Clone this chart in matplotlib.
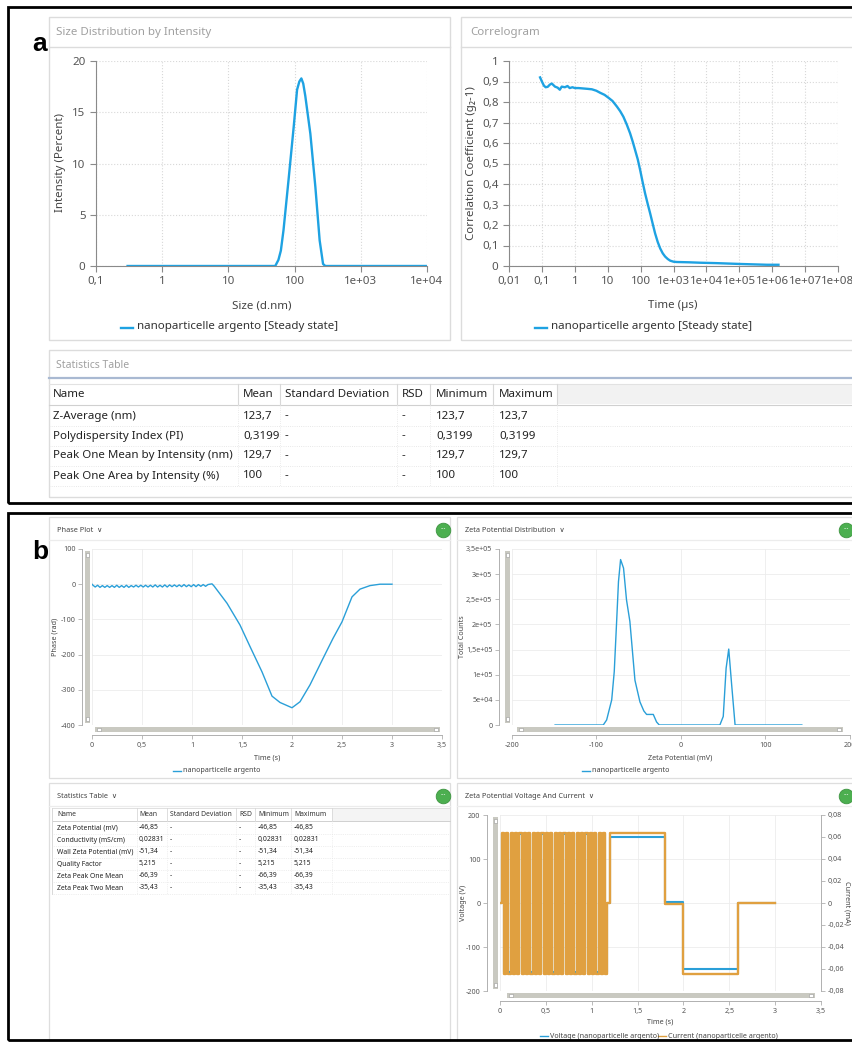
import numpy as np
import matplotlib
matplotlib.use('Agg')
import matplotlib.pyplot as plt
from matplotlib.patches import Rectangle
from matplotlib.lines import Line2D

plt.rcParams['font.family'] = ['Noto Sans', 'DejaVu Sans']
plt.rcParams['axes.unicode_minus'] = False

# ---------------- data (a) ----------------
size_nm = [0.3, 51, 57, 62, 68, 81, 97, 109, 118, 126.5, 135, 145, 173, 206, 239, 269, 291, 1e4]
size_int = [0, 0, 0.6, 1.5, 3.5, 8.4, 13.6, 17.2, 18.0, 18.3, 17.8, 16.6, 12.9, 7.7, 2.5, 0.2, 0, 0]
size_ticks = [0.1, 1, 10, 100, 1e3, 1e4]
size_ticklabels = ['0,1', '1', '10', '100', '1e+03', '1e+04']

corr_t = [0.088, 0.1, 0.115, 0.13, 0.15, 0.175, 0.2, 0.25, 0.3, 0.35,
          0.4, 0.5, 0.6, 0.7, 0.85, 1.0, 1.3, 1.8, 2.5, 3.3,
          4.5, 5.9, 8, 10.5, 14, 19, 24, 30, 38, 48,
          58, 68, 82, 97, 115, 137, 163, 195, 230, 276,
          330, 393, 470, 557, 670, 794, 1000, 1260, 3000, 6460,
          2e4, 1e5, 7e5, 1.55e6]
corr_g = [0.92, 0.90, 0.88, 0.872, 0.874, 0.885, 0.89, 0.875, 0.87, 0.86,
          0.875, 0.872, 0.878, 0.868, 0.872, 0.868, 0.868, 0.866, 0.864, 0.862,
          0.855, 0.845, 0.835, 0.821, 0.805, 0.778, 0.755, 0.728, 0.69, 0.647,
          0.605, 0.566, 0.52, 0.468, 0.41, 0.354, 0.305, 0.257, 0.21, 0.159,
          0.118, 0.086, 0.062, 0.046, 0.034, 0.026, 0.021, 0.0195, 0.018, 0.016,
          0.014, 0.01, 0.006, 0.006]
corr_xticks = [1e-2, 1e-1, 1, 10, 100, 1e3, 1e4, 1e5, 1e6, 1e7, 1e8]
corr_xticklabels = ['0,01', '0,1', '1', '10', '100', '1e+03', '1e+04', '1e+05', '1e+06', '1e+07', '1e+08']
corr_yticks = [0, 0.1, 0.2, 0.3, 0.4, 0.5, 0.6, 0.7, 0.8, 0.9, 1]
corr_yticklabels = ['0', '0,1', '0,2', '0,3', '0,4', '0,5', '0,6', '0,7', '0,8', '0,9', '1']

stat_cols = ['Name', 'Mean', 'Standard Deviation', 'RSD', 'Minimum', 'Maximum']
stat_a_names = ['Z-Average (nm)', 'Polydispersity Index (PI)',
                'Peak One Mean by Intensity (nm)', 'Peak One Area by Intensity (%)']
stat_a_mean = ['123,7', '0,3199', '129,7', '100']
stat_a_min = ['123,7', '0,3199', '129,7', '100']
stat_a_max = ['123,7', '0,3199', '129,7', '100']

# ---------------- data (b) ----------------
phase_t = [0.000, 0.010, 0.032, 0.056, 0.080, 0.104, 0.128, 0.152, 0.176, 0.200,
           0.224, 0.248, 0.272, 0.296, 0.320, 0.344, 0.368, 0.392, 0.416, 0.440,
           0.464, 0.488, 0.512, 0.536, 0.560, 0.584, 0.608, 0.632, 0.656, 0.680,
           0.704, 0.728, 0.752, 0.776, 0.800, 0.824, 0.848, 0.872, 0.896, 0.920,
           0.944, 0.968, 0.992, 1.016, 1.040, 1.064, 1.088, 1.112, 1.136, 1.160,
           1.180, 1.200, 1.220, 1.35, 1.48, 1.58, 1.70, 1.80, 1.88, 2.00,
           2.08, 2.18, 2.31, 2.41, 2.50, 2.60, 2.68, 2.78, 2.88, 3.00]
phase_rad = [0, -3, -8, -3, -9, -4, -9, -4, -9, -4,
             -9, -3, -9, -4, -9, -3, -9, -4, -8, -3,
             -8, -3, -8, -3, -8, -3, -8, -2, -8, -3,
             -8, -2, -8, -2, -7, -2, -7, -2, -7, -1,
             -7, -2, -7, -1, -7, -1, -6, -1, -6, -1,
             0, 1, -5, -54, -116, -177, -249, -318, -336, -351,
             -334, -286, -211, -154, -107, -36, -14, -4, 0, 0]
phase_xticks = [0, 0.5, 1, 1.5, 2, 2.5, 3, 3.5]
phase_xticklabels = ['0', '0,5', '1', '1,5', '2', '2,5', '3', '3,5']

zeta_mv = [-149, -92, -88, -82, -79, -76, -74, -71.5, -68, -64.5,
           -60.5, -54.5, -48.6, -44, -40.7, -32.8, -28.9, -25.7, 46, 50,
           53.4, 56.5, 60, 64, 143]
zeta_counts = [0, 0, 1e4, 5e4, 1.06e5, 2.12e5, 2.85e5, 3.29e5, 3.12e5, 2.49e5,
               2.06e5, 8.9e4, 4.6e4, 2.8e4, 2.1e4, 2.1e4, 6e3, 0, 0, 1.7e4,
               1.13e5, 1.51e5, 7.9e4, 0, 0]
zeta_yticks = [0, 5e4, 1e5, 1.5e5, 2e5, 2.5e5, 3e5, 3.5e5]
zeta_yticklabels = ['0', '5e+04', '1e+05', '1,5e+05', '2e+05', '2,5e+05', '3e+05', '3,5e+05']

stat_b_names = ['Zeta Potential (mV)', 'Conductivity (mS/cm)', 'Wall Zeta Potential (mV)',
                'Quality Factor', 'Zeta Peak One Mean', 'Zeta Peak Two Mean']
stat_b_mean = ['-46,85', '0,02831', '-51,34', '5,215', '-66,39', '-35,43']
stat_b_min = ['-46,85', '0,02831', '-51,34', '5,215', '-66,39', '-35,43']
stat_b_max = ['-46,85', '0,02831', '-51,34', '5,215', '-66,39', '-35,43']

# step change times for voltage / current
vi_t = [0.000, 0.020, 0.044, 0.068, 0.092, 0.116, 0.140, 0.164, 0.188, 0.212,
        0.236, 0.260, 0.284, 0.308, 0.332, 0.356, 0.380, 0.404, 0.428, 0.452,
        0.476, 0.500, 0.524, 0.548, 0.572, 0.596, 0.620, 0.644, 0.668, 0.692,
        0.716, 0.740, 0.764, 0.788, 0.812, 0.836, 0.860, 0.884, 0.908, 0.932,
        0.956, 0.980, 1.004, 1.028, 1.052, 1.076, 1.100, 1.124, 1.148, 1.172,
        1.200, 1.800, 2.000, 2.600, 3.000]
volt_v = [0, 157, -157, 157, -157, 157, -157, 157, -157, 157,
          -157, 157, -157, 157, -157, 157, -157, 157, -157, 157,
          -157, 157, -157, 157, -157, 157, -157, 157, -157, 157,
          -157, 157, -157, 157, -157, 157, -157, 157, -157, 157,
          -157, 157, -157, 157, -157, 157, -157, 157, -157, 0,
          150, 3, -150, 0, 0]
curr_ma = [0, 0.0632, -0.0648, 0.0632, -0.0648, 0.0632, -0.0648, 0.0632, -0.0648, 0.0632,
           -0.0648, 0.0632, -0.0648, 0.0632, -0.0648, 0.0632, -0.0648, 0.0632, -0.0648, 0.0632,
           -0.0648, 0.0632, -0.0648, 0.0632, -0.0648, 0.0632, -0.0648, 0.0632, -0.0648, 0.0632,
           -0.0648, 0.0632, -0.0648, 0.0632, -0.0648, 0.0632, -0.0648, 0.0632, -0.0648, 0.0632,
           -0.0648, 0.0632, -0.0648, 0.0632, -0.0648, 0.0632, -0.0648, 0.0632, -0.0648, 0,
           0.0632, -0.0005, -0.0648, 0, 0]
curr_yticks = [-0.08, -0.06, -0.04, -0.02, 0, 0.02, 0.04, 0.06, 0.08]
curr_yticklabels = ['-0,08', '-0,06', '-0,04', '-0,02', '0', '0,02', '0,04', '0,06', '0,08']

BLUE_A = '#1ea2e2'
BLUE_B = '#2a9fd8'
ORANGE = '#e0a040'

W, H = 853, 1042
fig = plt.figure(figsize=(W / 100, H / 100), dpi=100)
fig.patch.set_facecolor('white')


def px_ax(l, t, r, b):
    return fig.add_axes([l / W, 1 - b / H, (r - l) / W, (b - t) / H])


def box(l, t, r, b, ec='#dcdcdc', lw=1.0, fc='none', z=1):
    fig.add_artist(Rectangle((l / W, 1 - b / H), (r - l) / W, (b - t) / H,
                             transform=fig.transFigure, fc=fc, ec=ec, lw=lw, zorder=z))


def line(x0, y0, x1, y1, color='#dcdcdc', lw=1.0, ls='-'):
    fig.add_artist(Line2D([x0 / W, x1 / W], [1 - y0 / H, 1 - y1 / H],
                          transform=fig.transFigure, color=color, lw=lw, ls=ls))


def txt(x, y, s, size=8, color='#333333', ha='left', **kw):
    fig.text(x / W, 1 - y / H, s, fontsize=size, color=color, ha=ha, va='center', **kw)


def button(x, y):
    fig.add_artist(Line2D([x / W], [1 - y / H], transform=fig.transFigure, marker='o',
                          markersize=10.5, color='#4caf50', mec='#3d9440', mew=0.6))
    txt(x, y - 1, '···', size=5, color='white', ha='center', fontweight='bold')


def style_a(ax):
    for s in ['top', 'right']:
        ax.spines[s].set_visible(False)
    for s in ['left', 'bottom']:
        ax.spines[s].set_color('#8a8a8a')
    ax.tick_params(labelsize=8.3, colors='#8a8a8a', labelcolor='#555555', length=4, width=0.8)
    ax.grid(True, color='#d8d8d8', linestyle=':', linewidth=0.8)
    ax.minorticks_off()


def style_b(ax, left_out=6):
    for s in ['top', 'right']:
        ax.spines[s].set_visible(False)
    for s in ['left', 'bottom']:
        ax.spines[s].set_color('#b0b0b0')
        ax.spines[s].set_linewidth(0.7)
    ax.spines['left'].set_position(('outward', left_out))
    ax.spines['bottom'].set_position(('outward', 7))
    ax.tick_params(labelsize=5.2, colors='#b0b0b0', labelcolor='#555555', length=3, width=0.6, pad=2)
    ax.grid(True, color='#ececec', linestyle='-', linewidth=0.6)


def vscroll(x, t, b):
    box(x, t, x + 5, b, ec='none', fc='#c9c9c1', z=3)
    box(x + 1, t + 2, x + 4, t + 6, ec='#999999', fc='white', lw=0.4, z=4)
    box(x + 1, b - 6, x + 4, b - 2, ec='#999999', fc='white', lw=0.4, z=4)


def hscroll(l, r, y):
    box(l, y, r, y + 5, ec='none', fc='#c9c9c1', z=3)
    box(l + 2, y + 1, l + 6, y + 4, ec='#999999', fc='white', lw=0.4, z=4)
    box(r - 6, y + 1, r - 2, y + 4, ec='#999999', fc='white', lw=0.4, z=4)


# ======================= panel a =======================
box(8, 7, 870, 503, ec='black', lw=2.0, z=5)
txt(32, 44, 'a', size=19, color='black', fontweight='bold', family=['Liberation Sans', 'DejaVu Sans'])

box(49, 17, 450, 340)
line(49, 47, 450, 47)
txt(56, 33, 'Size Distribution by Intensity', size=8.3, color='#a0a0a0')
box(461, 17, 870, 340)
line(461, 47, 853, 47)
txt(470, 33, 'Correlogram', size=8.3, color='#a0a0a0')

ax1 = px_ax(96, 61, 427, 266)
ax1.plot(size_nm, size_int, color=BLUE_A, lw=1.7, solid_joinstyle='round')
ax1.set_xscale('log')
ax1.set_xlim(0.1, 1e4)
ax1.set_ylim(0, 20)
ax1.set_xticks(size_ticks)
ax1.set_xticklabels(size_ticklabels)
ax1.set_yticks([0, 5, 10, 15, 20])
style_a(ax1)
txt(60, 163, 'Intensity (Percent)', size=8.3, color='#444444', ha='center', rotation=90)
txt(262, 306, 'Size (d.nm)', size=8.3, color='#444444', ha='center')
line(121, 328, 133, 328, color=BLUE_A, lw=1.7)
txt(137, 327, 'nanoparticelle argento [Steady state]', size=8.3, color='#333333')

ax2 = px_ax(509, 61, 838, 266)
ax2.plot(corr_t, corr_g, color=BLUE_A, lw=1.7)
ax2.set_xscale('log')
ax2.set_xlim(1e-2, 1e8)
ax2.set_ylim(0, 1)
ax2.set_xticks(corr_xticks)
ax2.set_xticklabels(corr_xticklabels)
ax2.set_yticks(corr_yticks)
ax2.set_yticklabels(corr_yticklabels)
style_a(ax2)
txt(472, 163, 'Correlation Coefficient (g\u2082-1)', size=8.3, color='#444444', ha='center', rotation=90)
txt(673, 306, 'Time (\u00b5s)', size=8.3, color='#444444', ha='center')
line(535, 328, 547, 328, color=BLUE_A, lw=1.7)
txt(551, 327, 'nanoparticelle argento [Steady state]', size=8.3, color='#333333')

# statistics table a
box(49, 350, 870, 497)
txt(56, 365, 'Statistics Table', size=7.5, color='#a0a0a0')
line(49, 378, 853, 378, color='#a9b9d2', lw=1.6)
col_x_a = [53, 243, 285, 402, 436, 499]
sep_x_a = [238, 280, 397, 430, 493, 557]
box(557, 384, 853, 404, ec='none', fc='#f2f2f2', z=1)
line(49, 384, 853, 384, color='#e2e2e2', lw=0.8)
line(49, 405, 853, 405, color='#d0d0d0', lw=0.8)
for xs in sep_x_a:
    line(xs, 384, xs, 405, color='#d8d8d8', lw=0.8)
    line(xs, 405, xs, 486, color='#e4e4e4', lw=0.6, ls=':')
for cx, name in zip(col_x_a, stat_cols):
    txt(cx, 394, name, size=8.3, color='#222222')
rows_a = list(zip(stat_a_names, stat_a_mean, ['-'] * 4, ['-'] * 4, stat_a_min, stat_a_max))
for i, row in enumerate(rows_a):
    y = 416 + 20 * i
    for cx, val in zip(col_x_a, row):
        txt(cx, y, val, size=8.3, color='#222222')
    line(49, y + 10, 853, y + 10, color='#e0e0e0', lw=0.6, ls=':')

# ======================= panel b =======================
box(8, 513, 870, 1040, ec='black', lw=2.0, z=5)
txt(32, 552, 'b', size=19, color='black', fontweight='bold', family=['Liberation Sans', 'DejaVu Sans'])

for (l, t, r, b, title) in [(49, 517, 450, 778, 'Phase Plot'),
                            (457, 517, 870, 778, 'Zeta Potential Distribution'),
                            (49, 783, 450, 1045, 'Statistics Table'),
                            (457, 783, 870, 1045, 'Zeta Potential Voltage And Current')]:
    box(l, t, r, b, ec='#dedede', lw=0.9)
    line(l, t + 23, min(r, 853), t + 23, color='#ececec', lw=0.9)
    txt(l + 8, t + 13, title + '  \u2228', size=5.3, color='#444444')
    button(min(r, 853) - 7 if r < 853 else 846, t + 13)

# phase plot
ax3 = px_ax(92, 549, 442, 725)
ax3.plot(phase_t, phase_rad, color=BLUE_B, lw=1.0)
ax3.set_xlim(0, 3.5)
ax3.set_ylim(-400, 100)
ax3.set_xticks(phase_xticks)
ax3.set_xticklabels(phase_xticklabels)
ax3.set_yticks([-400, -300, -200, -100, 0, 100])
style_b(ax3, left_out=7)
vscroll(85, 551, 723)
hscroll(95, 440, 727)
txt(55, 637, 'Phase (rad)', size=5.2, color='#444444', ha='center', rotation=90)
txt(267, 758, 'Time (s)', size=5.2, color='#444444', ha='center')
line(173, 771, 181, 771, color=BLUE_B, lw=1.0)
txt(183, 771, 'nanoparticelle argento', size=5.2, color='#444444')

# zeta potential distribution
ax4 = px_ax(512, 549, 850, 725)
ax4.plot(zeta_mv, zeta_counts, color=BLUE_B, lw=1.0)
ax4.set_xlim(-200, 200)
ax4.set_ylim(0, 3.5e5)
ax4.set_xticks([-200, -100, 0, 100, 200])
ax4.set_yticks(zeta_yticks)
ax4.set_yticklabels(zeta_yticklabels)
style_b(ax4, left_out=9)
vscroll(505, 551, 723)
hscroll(517, 843, 727)
txt(463, 637, 'Total Counts', size=5.2, color='#444444', ha='center', rotation=90)
txt(680, 758, 'Zeta Potential (mV)', size=5.2, color='#444444', ha='center')
line(582, 771, 590, 771, color=BLUE_B, lw=1.0)
txt(592, 771, 'nanoparticelle argento', size=5.2, color='#444444')

# statistics table b
col_x_b = [57, 139, 170, 239, 258, 294]
sep_x_b = [137, 167, 236, 255, 291, 332]
box(332, 808, 450, 821, ec='none', fc='#f4f4f4', z=1)
line(52, 808, 450, 808, color='#e0e0e0', lw=0.7)
line(52, 821, 450, 821, color='#d0d0d0', lw=0.7)
line(52, 808, 52, 894, color='#d8d8d8', lw=0.7)
for xs in sep_x_b:
    line(xs, 808, xs, 821, color='#d8d8d8', lw=0.6)
    line(xs, 821, xs, 894, color='#e4e4e4', lw=0.5, ls=':')
for cx, name in zip(col_x_b, stat_cols):
    txt(cx, 815, name, size=4.9, color='#333333')
rows_b = list(zip(stat_b_names, stat_b_mean, ['-'] * 6, ['-'] * 6, stat_b_min, stat_b_max))
for i, row in enumerate(rows_b):
    y = 828 + 12 * i
    for cx, val in zip(col_x_b, row):
        txt(cx, y, val, size=4.9, color='#222222')
    line(52, y + 6, 450, y + 6, color='#e0e0e0', lw=0.5, ls=':')

# voltage and current
ax5 = px_ax(500, 815, 821, 991)
ax5.plot(vi_t, volt_v, color=BLUE_B, lw=1.5, drawstyle='steps-post')
ax5.set_xlim(0, 3.5)
ax5.set_ylim(-200, 200)
ax5.set_xticks(phase_xticks)
ax5.set_xticklabels(phase_xticklabels)
ax5.set_yticks([-200, -100, 0, 100, 200])
style_b(ax5, left_out=9)
ax6 = ax5.twinx()
ax6.plot(vi_t, curr_ma, color=ORANGE, lw=1.7, drawstyle='steps-post')
ax6.set_ylim(-0.08, 0.08)
ax6.set_yticks(curr_yticks)
ax6.set_yticklabels(curr_yticklabels)
for s in ['top', 'left', 'bottom']:
    ax6.spines[s].set_visible(False)
ax6.spines['right'].set_color('#b0b0b0')
ax6.spines['right'].set_linewidth(0.7)
ax6.tick_params(labelsize=5.2, colors='#b0b0b0', labelcolor='#555555', length=3, width=0.6, pad=2)
vscroll(493, 817, 989)
hscroll(507, 815, 993)
txt(464, 903, 'Voltage (V)', size=5.2, color='#444444', ha='center', rotation=90)
txt(847, 903, 'Current (mA)', size=5.2, color='#444444', ha='center', rotation=-90)
txt(660, 1022, 'Time (s)', size=5.2, color='#444444', ha='center')
line(540, 1036, 548, 1036, color=BLUE_B, lw=1.0)
txt(550, 1036, 'Voltage (nanoparticelle argento)', size=5.2, color='#444444')
line(658, 1036, 666, 1036, color=ORANGE, lw=1.0)
txt(668, 1036, 'Current (nanoparticelle argento)', size=5.2, color='#444444')

fig.savefig('out.png', dpi=100)
